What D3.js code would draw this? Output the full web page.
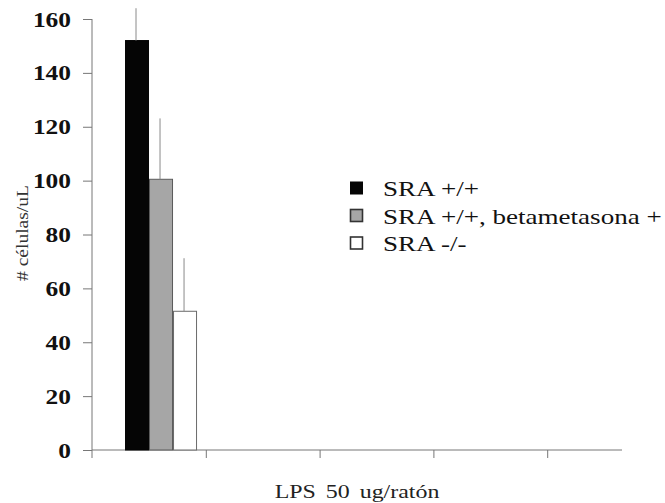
<!DOCTYPE html>
<html>
<head>
<meta charset="utf-8">
<script src="https://cdn.jsdelivr.net/npm/d3@7"></script>
<style>
  html, body { margin: 0; padding: 0; background: #ffffff; }
  svg { display: block; }
</style>
</head>
<body>
<svg id="chart" width="665" height="503"></svg>
<script>
// ---- data ----
const groups = ["LPS 50 ug/ratón"];
const series = ["SRA +/+", "SRA +/+, betametasona +", "SRA -/-"];
const values = [152, 100.5, 51.5];
const errors = [12, 22.6, 19.7];
const yTicks = [0, 20, 40, 60, 80, 100, 120, 140, 160];
const slotCount = 5; // category slots along the x axis
const fills = ["#050505", "#a6a6a6", "#ffffff"];
const strokes = ["#050505", "#5a5a5a", "#6a6a6a"];

const svg = d3.select("#chart");
const SERIF = "'Liberation Serif', 'Times New Roman', serif";

// ---- scales ----
const y = d3.scaleLinear().domain([0, 160]).range([450, 19]);
const xSlots = d3.scaleLinear().domain([0, slotCount]).range([92, 661]);
const slotW = xSlots(1) - xSlots(0);
const x0 = xSlots(0);
const xInner = d3.scaleBand().domain(series)
  .range([x0 + 0.29 * slotW, x0 + 0.923 * slotW]).paddingInner(0);

// ---- y axis ----
const yAxis = d3.axisLeft(y).tickValues(yTicks).tickSize(9).tickPadding(0);
const gy = svg.append("g").attr("transform", "translate(92,0)").call(yAxis);
gy.select(".domain").remove();
gy.selectAll(".tick line").attr("stroke", "#777").attr("stroke-width", 1);
gy.selectAll(".tick text")
  .attr("x", null).attr("dy", null)
  .attr("transform", "translate(-21,7) scale(1.27,1)")
  .attr("text-anchor", "end")
  .attr("fill", "#111")
  .style("font-family", SERIF).style("font-weight", "bold").style("font-size", "20px");
svg.append("line")
  .attr("x1", 92).attr("x2", 92)
  .attr("y1", y(160)).attr("y2", y(0) + 8)
  .attr("stroke", "#777").attr("stroke-width", 1);

// ---- x axis ----
const xAxis = d3.axisBottom(xSlots).tickValues(d3.range(1, slotCount)).tickSize(8).tickFormat("");
const gx = svg.append("g").attr("transform", `translate(0,${y(0)})`).call(xAxis);
gx.select(".domain").remove();
gx.selectAll(".tick line").attr("stroke", "#777");
svg.append("line")
  .attr("x1", 92).attr("x2", 622)
  .attr("y1", y(0)).attr("y2", y(0))
  .attr("stroke", "#777").attr("stroke-width", 1);

// ---- bars ----
svg.append("g").selectAll("rect").data(series).join("rect")
  .attr("x", d => xInner(d) + 0.5)
  .attr("y", (d, i) => y(values[i]))
  .attr("width", xInner.bandwidth() - 1)
  .attr("height", (d, i) => y(0) - y(values[i]))
  .attr("fill", (d, i) => fills[i])
  .attr("stroke", (d, i) => strokes[i])
  .attr("stroke-width", 1);

// ---- error bars (upper only) ----
svg.append("g").selectAll("line").data(series).join("line")
  .attr("x1", d => xInner(d) + xInner.bandwidth() / 2 - 1)
  .attr("x2", d => xInner(d) + xInner.bandwidth() / 2 - 1)
  .attr("y1", (d, i) => y(values[i]))
  .attr("y2", (d, i) => y(values[i] + errors[i]))
  .attr("stroke", "#8a8a8a").attr("stroke-width", 1);

// ---- axis titles ----
svg.append("text")
  .attr("transform", "translate(28,233) rotate(-90) scale(1.22,1)")
  .attr("text-anchor", "middle")
  .attr("fill", "#333")
  .style("font-family", SERIF).style("font-size", "16px")
  .text("# células/uL");

svg.append("text")
  .attr("transform", "translate(357,498) scale(1.33,1)")
  .attr("text-anchor", "middle")
  .attr("fill", "#222")
  .style("font-family", SERIF).style("font-size", "18px")
  .style("word-spacing", "3px")
  .text(groups[0]);

// ---- legend ----
const legend = svg.append("g").selectAll("g").data(series).join("g")
  .attr("transform", (d, i) => `translate(350,${188 + i * 27.5})`);
legend.append("rect")
  .attr("x", 0.5).attr("y", -6)
  .attr("width", 12).attr("height", 12)
  .attr("fill", (d, i) => fills[i])
  .attr("stroke", (d, i) => i === 0 ? "#050505" : "#333")
  .attr("stroke-width", (d, i) => i === 0 ? 1 : 1.6);
legend.append("text")
  .attr("transform", "translate(33,8) scale(1.23,1)")
  .attr("fill", "#111")
  .style("font-family", SERIF).style("font-size", "22px")
  .text(d => d);
</script>
</body>
</html>
